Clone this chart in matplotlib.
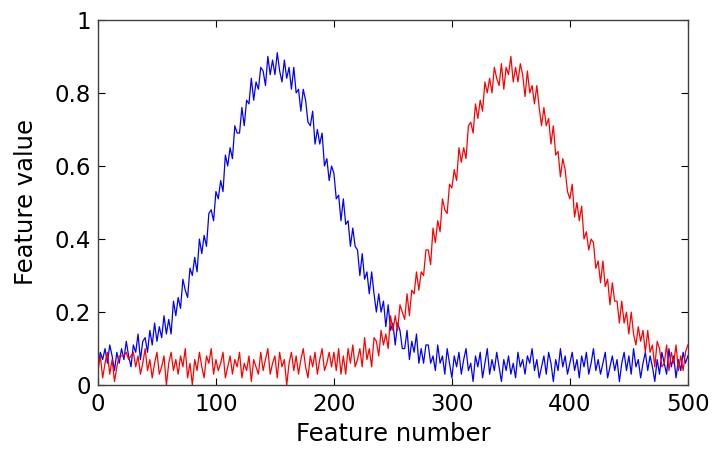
"""Two noisy bell-shaped feature profiles (blue peak near 150, red near 350)."""

import matplotlib

matplotlib.use("Agg")
import matplotlib.pyplot as plt
from matplotlib.ticker import FuncFormatter

plt.rcParams["font.family"] = ["DejaVu Sans"]

# feature numbers, sampled every 2
feature_number = list(range(0, 501, 2))

blue_values = [
    0.05, 0.09, 0.07, 0.10, 0.06, 0.11, 0.08, 0.04, 0.09, 0.06,
    0.10, 0.07, 0.12, 0.08, 0.05, 0.11, 0.09, 0.14, 0.07, 0.12,
    0.13, 0.09, 0.15, 0.11, 0.17, 0.12, 0.16, 0.13, 0.19, 0.14,
    0.18, 0.14, 0.23, 0.19, 0.24, 0.21, 0.29, 0.26, 0.24, 0.32,
    0.30, 0.35, 0.31, 0.40, 0.36, 0.41, 0.38, 0.47, 0.48, 0.45,
    0.53, 0.51, 0.56, 0.53, 0.63, 0.60, 0.65, 0.62, 0.71, 0.69,
    0.69, 0.76, 0.71, 0.78, 0.77, 0.84, 0.78, 0.83, 0.81, 0.87,
    0.86, 0.82, 0.90, 0.85, 0.89, 0.85, 0.91, 0.86, 0.83, 0.89,
    0.84, 0.87, 0.81, 0.87, 0.80, 0.81, 0.75, 0.81, 0.78, 0.72,
    0.71, 0.75, 0.66, 0.70, 0.66, 0.69, 0.60, 0.62, 0.56, 0.60,
    0.58, 0.51, 0.52, 0.45, 0.51, 0.44, 0.45, 0.38, 0.43, 0.38,
    0.37, 0.30, 0.36, 0.29, 0.31, 0.25, 0.31, 0.25, 0.20, 0.25,
    0.20, 0.23, 0.16, 0.22, 0.15, 0.17, 0.11, 0.17, 0.15, 0.10,
    0.10, 0.15, 0.07, 0.12, 0.09, 0.14, 0.06, 0.10, 0.06, 0.11,
    0.11, 0.06, 0.08, 0.04, 0.11, 0.06, 0.08, 0.03, 0.10, 0.06,
    0.02, 0.08, 0.05, 0.09, 0.03, 0.07, 0.10, 0.04, 0.06, 0.01,
    0.08, 0.05, 0.09, 0.02, 0.06, 0.10, 0.03, 0.07, 0.04, 0.09,
    0.05, 0.01, 0.07, 0.04, 0.08, 0.03, 0.06, 0.02, 0.09, 0.05,
    0.07, 0.03, 0.08, 0.06, 0.10, 0.04, 0.07, 0.02, 0.05, 0.08,
    0.03, 0.09, 0.06, 0.01, 0.07, 0.04, 0.10, 0.05, 0.08, 0.03,
    0.06, 0.09, 0.04, 0.07, 0.02, 0.08, 0.05, 0.09, 0.03, 0.06,
    0.10, 0.04, 0.07, 0.03, 0.06, 0.09, 0.02, 0.05, 0.08, 0.04,
    0.07, 0.01, 0.06, 0.09, 0.04, 0.08, 0.03, 0.10, 0.05, 0.07,
    0.02, 0.06, 0.09, 0.04, 0.08, 0.05, 0.01, 0.07, 0.03, 0.09,
    0.06, 0.03, 0.10, 0.05, 0.08, 0.02, 0.07, 0.04, 0.09, 0.06,
    0.08,
]

red_values = [
    0.04, 0.08, 0.02, 0.06, 0.09, 0.03, 0.07, 0.01, 0.05, 0.08,
    0.08, 0.08, 0.09, 0.07, 0.08, 0.09, 0.05, 0.08, 0.03, 0.06,
    0.10, 0.04, 0.07, 0.02, 0.06, 0.09, 0.03, 0.05, 0.08, 0.00,
    0.06, 0.09, 0.04, 0.07, 0.03, 0.08, 0.05, 0.10, 0.02, 0.06,
    0.00, 0.07, 0.04, 0.09, 0.05, 0.02, 0.08, 0.06, 0.10, 0.03,
    0.07, 0.04, 0.06, 0.09, 0.02, 0.05, 0.08, 0.03, 0.07, 0.05,
    0.09, 0.02, 0.06, 0.04, 0.08, 0.01, 0.07, 0.05, 0.03, 0.09,
    0.04, 0.07, 0.10, 0.03, 0.06, 0.08, 0.02, 0.09, 0.05, 0.07,
    0.00, 0.06, 0.09, 0.04, 0.08, 0.03, 0.07, 0.10, 0.05, 0.02,
    0.08, 0.05, 0.09, 0.03, 0.07, 0.10, 0.04, 0.06, 0.09, 0.05,
    0.09, 0.04, 0.10, 0.03, 0.08, 0.03, 0.10, 0.06, 0.11, 0.05,
    0.07, 0.10, 0.05, 0.13, 0.07, 0.10, 0.05, 0.13, 0.12, 0.08,
    0.15, 0.11, 0.14, 0.10, 0.19, 0.15, 0.19, 0.15, 0.22, 0.20,
    0.18, 0.25, 0.19, 0.26, 0.25, 0.31, 0.26, 0.31, 0.30, 0.37,
    0.37, 0.33, 0.43, 0.39, 0.45, 0.42, 0.51, 0.48, 0.47, 0.55,
    0.54, 0.59, 0.56, 0.65, 0.61, 0.65, 0.62, 0.71, 0.72, 0.69,
    0.77, 0.73, 0.78, 0.75, 0.83, 0.80, 0.84, 0.80, 0.87, 0.84,
    0.82, 0.88, 0.81, 0.87, 0.85, 0.90, 0.83, 0.87, 0.83, 0.88,
    0.85, 0.79, 0.86, 0.80, 0.82, 0.77, 0.82, 0.76, 0.71, 0.76,
    0.71, 0.73, 0.66, 0.71, 0.63, 0.64, 0.57, 0.62, 0.59, 0.53,
    0.51, 0.55, 0.46, 0.50, 0.45, 0.49, 0.40, 0.42, 0.37, 0.40,
    0.39, 0.32, 0.34, 0.28, 0.34, 0.27, 0.29, 0.22, 0.28, 0.23,
    0.23, 0.17, 0.23, 0.17, 0.20, 0.14, 0.20, 0.14, 0.11, 0.16,
    0.12, 0.15, 0.09, 0.15, 0.09, 0.11, 0.05, 0.12, 0.10, 0.05,
    0.06, 0.11, 0.04, 0.09, 0.06, 0.11, 0.04, 0.08, 0.04, 0.09,
    0.11,
]

x_ticks = [0, 100, 200, 300, 400, 500]
y_ticks = [0, 0.2, 0.4, 0.6, 0.8, 1]

fig = plt.figure(figsize=(7.15, 4.51), dpi=100)
ax = fig.add_axes([0.137, 0.146, 0.825, 0.810])

ax.plot(feature_number, blue_values, color="#0000ff", lw=0.9)
ax.plot(feature_number, red_values, color="#ff0000", lw=0.9)

ax.set_xlim(0, 500)
ax.set_ylim(0, 1)
ax.set_xticks(x_ticks)
ax.set_yticks(y_ticks)
ax.yaxis.set_major_formatter(FuncFormatter(lambda v, _: f"{v:g}"))

ax.tick_params(direction="in", top=True, right=True, length=5, width=0.8,
               labelsize=16.5, colors="#000000")
ax.tick_params(axis="x", pad=6)
ax.tick_params(axis="y", pad=5)
for sp in ax.spines.values():
    sp.set_color("#404040")
    sp.set_linewidth(1.0)

ax.set_xlabel("Feature number", fontsize=17.5, labelpad=4)
ax.set_ylabel("Feature value", fontsize=17.5, labelpad=12)

fig.savefig("out.png", dpi=100)
plt.close(fig)
